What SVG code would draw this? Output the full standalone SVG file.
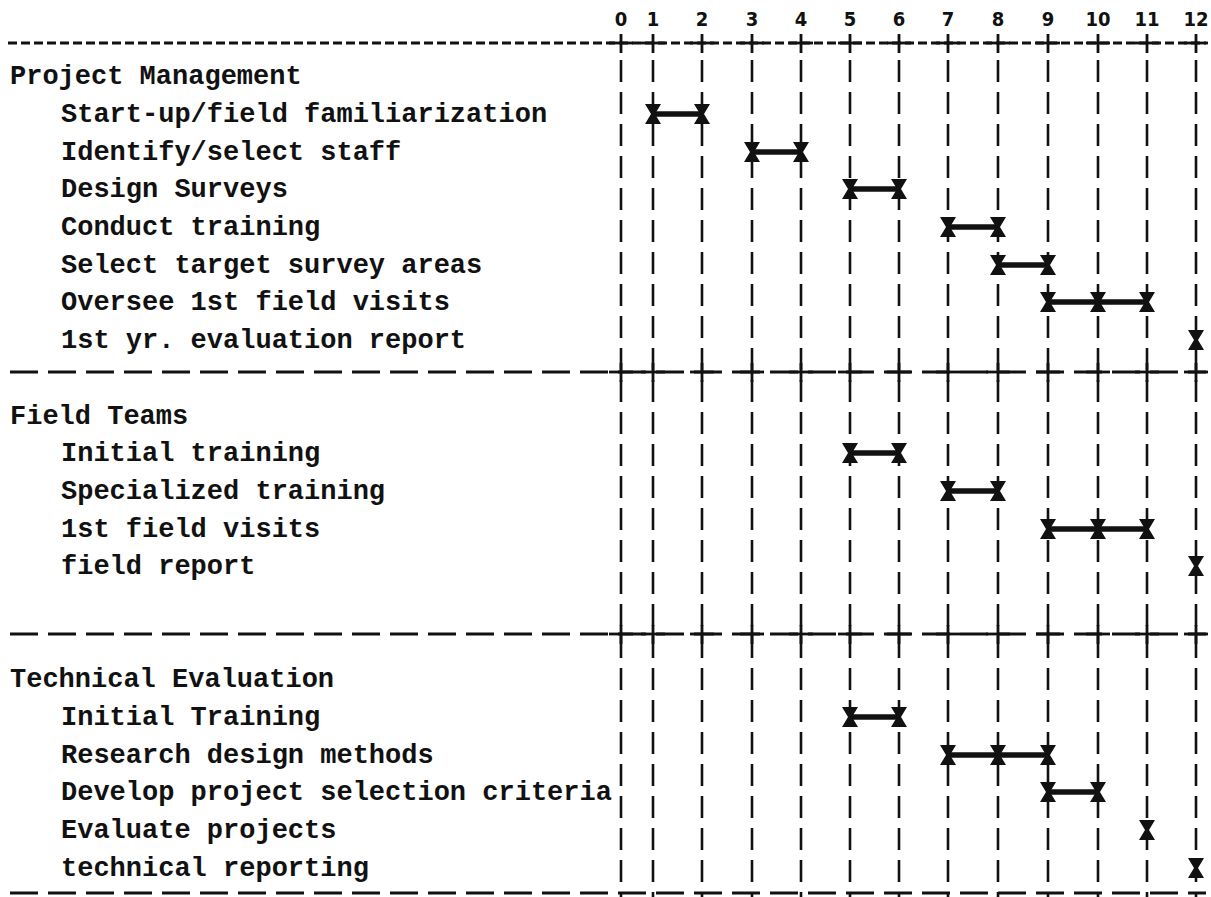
<svg xmlns="http://www.w3.org/2000/svg" width="1211" height="897" viewBox="0 0 1211 897">
<style>
.t{font-family:"Liberation Mono","Courier New",monospace;font-size:27px;font-weight:bold;fill:#111}
.n{font-family:"DejaVu Sans",sans-serif;font-stretch:condensed;font-size:20px;font-weight:bold;fill:#111;text-anchor:middle}
.v{stroke:#111;stroke-width:2.6;stroke-dasharray:22 10;fill:none}
.hs{stroke:#111;stroke-width:2.8;stroke-dasharray:9 4;fill:none}
.hl{stroke:#111;stroke-width:2.8;stroke-dasharray:28 10;fill:none}
.tk{stroke:#111;stroke-width:2.8;fill:none}
.bar{stroke:#111;stroke-width:5.5;fill:none}
.mk{fill:#111}
</style>
<defs>
<path id="x" d="M-8,-10 L8,-10 L2,0 L8,10 L-8,10 L-2,0 Z"/>
<g id="plus"><line x1="-12" y1="0" x2="12" y2="0"/><line x1="0" y1="-9" x2="0" y2="10"/></g>
</defs>
<rect width="1211" height="897" fill="#fff"/>
<g id="header">
<text class="n" x="621" y="26">0</text>
<text class="n" x="653" y="26">1</text>
<text class="n" x="702" y="26">2</text>
<text class="n" x="752" y="26">3</text>
<text class="n" x="801" y="26">4</text>
<text class="n" x="850" y="26">5</text>
<text class="n" x="899" y="26">6</text>
<text class="n" x="948" y="26">7</text>
<text class="n" x="998" y="26">8</text>
<text class="n" x="1048" y="26">9</text>
<text class="n" x="1098" y="26">10</text>
<text class="n" x="1147" y="26">11</text>
<text class="n" x="1196" y="26">12</text>
</g>
<g id="connectors">
<line class="v" x1="621" y1="60" x2="621" y2="897"/>
<line class="v" x1="653" y1="60" x2="653" y2="897"/>
<line class="v" x1="702" y1="60" x2="702" y2="897"/>
<line class="v" x1="752" y1="60" x2="752" y2="897"/>
<line class="v" x1="801" y1="60" x2="801" y2="897"/>
<line class="v" x1="850" y1="60" x2="850" y2="897"/>
<line class="v" x1="899" y1="60" x2="899" y2="897"/>
<line class="v" x1="948" y1="60" x2="948" y2="897"/>
<line class="v" x1="998" y1="60" x2="998" y2="897"/>
<line class="v" x1="1048" y1="60" x2="1048" y2="897"/>
<line class="v" x1="1098" y1="60" x2="1098" y2="897"/>
<line class="v" x1="1147" y1="60" x2="1147" y2="897"/>
<line class="v" x1="1196" y1="60" x2="1196" y2="897"/>
<line class="hs" x1="8" y1="43" x2="1206" y2="43"/>
<line class="hl" x1="10" y1="372" x2="1206" y2="372"/>
<line class="hl" x1="10" y1="634" x2="1206" y2="634"/>
<line class="hl" x1="10" y1="893" x2="1206" y2="893"/>
<g class="tk">
<use href="#plus" x="621" y="43"/><use href="#plus" x="653" y="43"/><use href="#plus" x="702" y="43"/><use href="#plus" x="752" y="43"/><use href="#plus" x="801" y="43"/><use href="#plus" x="850" y="43"/><use href="#plus" x="899" y="43"/><use href="#plus" x="948" y="43"/><use href="#plus" x="998" y="43"/><use href="#plus" x="1048" y="43"/><use href="#plus" x="1098" y="43"/><use href="#plus" x="1147" y="43"/><use href="#plus" x="1196" y="43"/>
<use href="#plus" x="621" y="372"/><use href="#plus" x="653" y="372"/><use href="#plus" x="702" y="372"/><use href="#plus" x="752" y="372"/><use href="#plus" x="801" y="372"/><use href="#plus" x="850" y="372"/><use href="#plus" x="899" y="372"/><use href="#plus" x="948" y="372"/><use href="#plus" x="998" y="372"/><use href="#plus" x="1048" y="372"/><use href="#plus" x="1098" y="372"/><use href="#plus" x="1147" y="372"/><use href="#plus" x="1196" y="372"/>
<use href="#plus" x="621" y="634"/><use href="#plus" x="653" y="634"/><use href="#plus" x="702" y="634"/><use href="#plus" x="752" y="634"/><use href="#plus" x="801" y="634"/><use href="#plus" x="850" y="634"/><use href="#plus" x="899" y="634"/><use href="#plus" x="948" y="634"/><use href="#plus" x="998" y="634"/><use href="#plus" x="1048" y="634"/><use href="#plus" x="1098" y="634"/><use href="#plus" x="1147" y="634"/><use href="#plus" x="1196" y="634"/>
</g>
</g>
<g id="project-management">
<text class="t" x="10" y="84">Project Management</text>
</g>
<g id="pm-startup"><text class="t" x="61" y="122">Start-up/field familiarization</text>
<line class="bar" x1="653" y1="114" x2="702" y2="114"/><use class="mk" href="#x" x="653" y="114"/><use class="mk" href="#x" x="702" y="114"/></g>
<g id="pm-identify"><text class="t" x="61" y="160">Identify/select staff</text>
<line class="bar" x1="752" y1="152" x2="801" y2="152"/><use class="mk" href="#x" x="752" y="152"/><use class="mk" href="#x" x="801" y="152"/></g>
<g id="pm-design"><text class="t" x="61" y="197">Design Surveys</text>
<line class="bar" x1="850" y1="189" x2="899" y2="189"/><use class="mk" href="#x" x="850" y="189"/><use class="mk" href="#x" x="899" y="189"/></g>
<g id="pm-conduct"><text class="t" x="61" y="235">Conduct training</text>
<line class="bar" x1="948" y1="227" x2="998" y2="227"/><use class="mk" href="#x" x="948" y="227"/><use class="mk" href="#x" x="998" y="227"/></g>
<g id="pm-select"><text class="t" x="61" y="273">Select target survey areas</text>
<line class="bar" x1="998" y1="265" x2="1048" y2="265"/><use class="mk" href="#x" x="998" y="265"/><use class="mk" href="#x" x="1048" y="265"/></g>
<g id="pm-oversee"><text class="t" x="61" y="310">Oversee 1st field visits</text>
<line class="bar" x1="1048" y1="302" x2="1147" y2="302"/><use class="mk" href="#x" x="1048" y="302"/><use class="mk" href="#x" x="1098" y="302"/><use class="mk" href="#x" x="1147" y="302"/></g>
<g id="pm-report"><text class="t" x="61" y="348">1st yr. evaluation report</text>
<use class="mk" href="#x" x="1196" y="340"/></g>

<g id="field-teams"><text class="t" x="10" y="424">Field Teams</text></g>
<g id="ft-initial"><text class="t" x="61" y="461">Initial training</text>
<line class="bar" x1="850" y1="453" x2="899" y2="453"/><use class="mk" href="#x" x="850" y="453"/><use class="mk" href="#x" x="899" y="453"/></g>
<g id="ft-specialized"><text class="t" x="61" y="499">Specialized training</text>
<line class="bar" x1="948" y1="491" x2="998" y2="491"/><use class="mk" href="#x" x="948" y="491"/><use class="mk" href="#x" x="998" y="491"/></g>
<g id="ft-visits"><text class="t" x="61" y="537">1st field visits</text>
<line class="bar" x1="1048" y1="529" x2="1147" y2="529"/><use class="mk" href="#x" x="1048" y="529"/><use class="mk" href="#x" x="1098" y="529"/><use class="mk" href="#x" x="1147" y="529"/></g>
<g id="ft-report"><text class="t" x="61" y="574">field report</text>
<use class="mk" href="#x" x="1196" y="566"/></g>

<g id="technical-evaluation"><text class="t" x="10" y="687">Technical Evaluation</text></g>
<g id="te-initial"><text class="t" x="61" y="725">Initial Training</text>
<line class="bar" x1="850" y1="717" x2="899" y2="717"/><use class="mk" href="#x" x="850" y="717"/><use class="mk" href="#x" x="899" y="717"/></g>
<g id="te-research"><text class="t" x="61" y="763">Research design methods</text>
<line class="bar" x1="948" y1="755" x2="1048" y2="755"/><use class="mk" href="#x" x="948" y="755"/><use class="mk" href="#x" x="998" y="755"/><use class="mk" href="#x" x="1048" y="755"/></g>
<g id="te-develop"><text class="t" x="61" y="800">Develop project selection criteria</text>
<line class="bar" x1="1048" y1="792" x2="1098" y2="792"/><use class="mk" href="#x" x="1048" y="792"/><use class="mk" href="#x" x="1098" y="792"/></g>
<g id="te-evaluate"><text class="t" x="61" y="838">Evaluate projects</text>
<use class="mk" href="#x" x="1147" y="830"/></g>
<g id="te-reporting"><text class="t" x="61" y="876">technical reporting</text>
<use class="mk" href="#x" x="1196" y="868"/></g>
</svg>
